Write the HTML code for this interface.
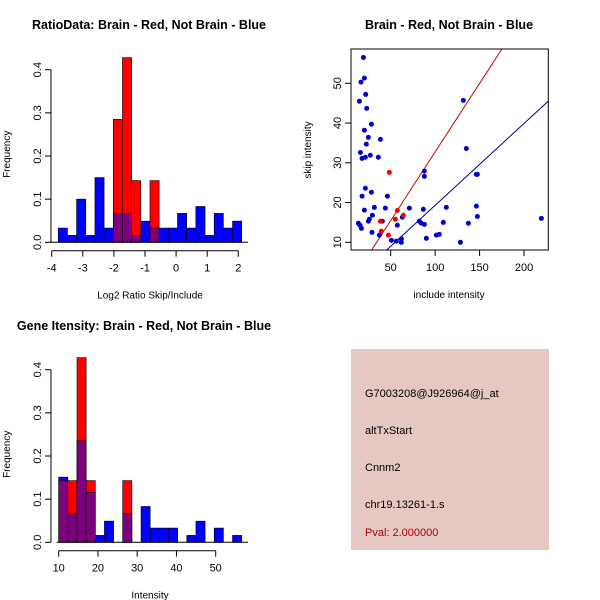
<!DOCTYPE html>
<html><head><meta charset="utf-8"><style>
body{margin:0;background:#fff;}
svg{display:block;font-family:"Liberation Sans",sans-serif;}
</style></head><body>
<svg id="c" width="600" height="600" xmlns="http://www.w3.org/2000/svg">
<rect width="600" height="600" fill="#fff"/>
<text x="149" y="29" text-anchor="middle" font-size="12.5" font-weight="bold">RatioData: Brain - Red, Not Brain - Blue</text>
<text x="449" y="29" text-anchor="middle" font-size="12.5" font-weight="bold">Brain - Red, Not Brain - Blue</text>
<text x="144" y="330" text-anchor="middle" font-size="12.5" font-weight="bold">Gene Itensity: Brain - Red, Not Brain - Blue</text>
<rect x="351" y="349" width="198" height="201" fill="#E6C8C2"/>
<text x="365" y="397" font-size="11">G7003208@J926964@j_at</text>
<text x="365" y="434" font-size="11">altTxStart</text>
<text x="365" y="471" font-size="11">Cnnm2</text>
<text x="365" y="508" font-size="11">chr19.13261-1.s</text>
<text x="365" y="536" font-size="11" fill="#B00000">Pval: 2.000000</text>
</svg>
<script>
// Ratio histogram data
const ratioStart = -3.79, ratioWidth = 0.295;
const ratioBlue = [0.033,0.016,0.1,0.016,0.15,0.033,0.067,0.067,0.016,0.049,0.033,0.033,0.033,0.067,0.033,0.083,0.016,0.067,0.033,0.049];
const ratioRed  = [0,0,0,0,0,0,0.285,0.428,0.143,0,0.143,0,0,0,0,0,0,0,0,0];
const ratioXTicks = [-4,-3,-2,-1,0,1,2];
const freqTicks = [0.0,0.1,0.2,0.3,0.4];
// Intensity histogram data
const intStart = 10, intWidth = 2.331;
const intBlue = [0.151,0.067,0.235,0.116,0.016,0.049,0,0.067,0,0.083,0.033,0.033,0.033,0,0.016,0.049,0,0.033,0,0.016];
const intRed  = [0.143,0.143,0.428,0.143,0,0,0,0.143,0,0,0,0,0,0,0,0,0,0,0,0];
const intXTicks = [10,20,30,40,50];
// Scatter data
const blueX = [19.3,20.4,16.6,14.8,21.9,23,28.3,20.4,24.9,38.4,22.6,15.9,27.1,17.8,21.5,36.1,21.5,17.8,46.3,28.3,31.6,20.4,44,29.4,26,24.9,13.6,15.5,17,29,37.2,40.6,50.8,56.4,57.5,62,63.1,71,82.2,84.5,87.9,86.7,87.9,87.9,90.1,101.4,104.7,109.2,112.6,128.4,131.7,135.1,137.4,146.4,147.5,146.4,147.5,219.5,62];
const blueY = [56.5,51.3,50.3,45.5,47.2,43.7,39.7,38.2,36.4,35.9,34.7,32.6,31.9,31.1,31.4,31.4,23.6,21.6,21.6,22.6,18.8,18.1,18.6,16.8,15.8,15.3,14.8,14.3,13.5,12.5,11.8,15.3,10.5,10.3,14.3,10,16.3,18.6,15.3,14.8,14.5,18.3,27.9,26.6,11,11.8,12,15,18.8,10,45.7,33.6,14.8,27.1,27.1,19.1,16.5,16,10.9];
const redX = [48.5,57.5,55.2,64.2,38.4,39.5,47.4];
const redY = [27.6,18,15.8,16.8,15.3,12.8,11.8];
const redFit = [-1.77,0.345];
const blueFit = [-1.3,0.206];
const scatXTicks = [50,100,150,200];
const scatYTicks = [10,20,30,40,50];

const svg = document.getElementById('c');
const NS = 'http://www.w3.org/2000/svg';
function mk(tag, at, parent){const e=document.createElementNS(NS,tag);for(const k in at)e.setAttribute(k,at[k]);(parent||svg).appendChild(e);return e;}

function hist(cfg){
  const g = mk('g',{});
  
  
  const X = v => cfg.x0 + (v - cfg.xv0) * cfg.xs;
  const Y = v => cfg.y0 - v * cfg.ys;
  const n = cfg.blue.length;
  for (let i=0;i<n;i++){
    const a = cfg.start + i*cfg.w, b = a + cfg.w;
    const b1 = cfg.blue[i], r1 = cfg.red[i];
    const hi = Math.max(b1,r1), lo = Math.min(b1,r1);
    if (hi>0){
      const r = mk('rect',{x:X(a),y:Y(hi),width:X(b)-X(a),height:Y(0)-Y(hi),fill:b1>=r1?'#0000FF':'#FF0000',stroke:'#000','stroke-width':0.6},g);
      
      
    }
    if (lo>0){
      const r = mk('rect',{x:X(a),y:Y(lo),width:X(b)-X(a),height:Y(0)-Y(lo),fill:'#7F007F',stroke:'#000','stroke-width':0.6},g);
      
      
    }
  }
  const ya = mk('g',{});
  
  
  mk('line',{x1:cfg.yax,x2:cfg.yax,y1:Y(0),y2:Y(0.4),stroke:'#000'},ya);
  freqTicks.forEach(t=>{
    mk('line',{x1:cfg.yax-6,x2:cfg.yax,y1:Y(t),y2:Y(t),stroke:'#000'},ya);
    const tx = mk('text',{x:0,y:0,'font-size':11,'text-anchor':'middle',transform:`translate(${cfg.yax-10},${Y(t)}) rotate(-90)`},ya);
    tx.textContent = t.toFixed(1);
  });
  const yl = mk('text',{'font-size':10,'text-anchor':'middle',transform:`translate(10,${cfg.y0-88}) rotate(-90)`},ya);
  yl.textContent='Frequency';
  const xa = mk('g',{});
  
  
  const ticks = cfg.ticks;
  mk('line',{x1:X(ticks[0]),x2:X(ticks[ticks.length-1]),y1:cfg.xay,y2:cfg.xay,stroke:'#000'},xa);
  ticks.forEach(t=>{
    mk('line',{x1:X(t),x2:X(t),y1:cfg.xay,y2:cfg.xay+6,stroke:'#000'},xa);
    const tx = mk('text',{x:X(t),y:cfg.xay+21,'font-size':11,'text-anchor':'middle'},xa);
    tx.textContent = t;
  });
  const xl = mk('text',{x:cfg.xlx,y:cfg.xay+48,'font-size':10,'text-anchor':'middle'},xa);
  xl.textContent = cfg.xlabel;
  mk('line',{x1:cfg.x0-2,x2:cfg.bx,y1:Y(0),y2:Y(0),stroke:'#000'},g);
}
hist({name:'ratio-histogram',blue:ratioBlue,red:ratioRed,start:ratioStart,w:ratioWidth,ticks:ratioXTicks,
  x0:51.7,xv0:-4,xs:31.1,y0:242.3,ys:431.5,yax:51,xay:250.7,xlabel:'Log2 Ratio Skip/Include',xlx:150,bx:248});
hist({name:'intensity-histogram',blue:intBlue,red:intRed,start:intStart,w:intWidth,ticks:intXTicks,
  x0:58.7,xv0:10,xs:3.925,y0:542.3,ys:431.5,yax:51,xay:550.7,xlabel:'Intensity',xlx:150,bx:248});

(function(){
  const g = mk('g',{});
  
  
  const X = v => 390.7 + (v-50)*0.8889;
  const Y = v => 242.3 - (v-10)*3.975;
  const L=351,R=548.3,T=49,B=250;
  const cp = mk('clipPath',{id:'cp'});
  mk('rect',{x:L,y:T,width:R-L,height:B-T},cp);
  const lines = mk('g',{'clip-path':'url(#cp)'},g);
  [[redFit,'#CC0000','red-fit-line'],[blueFit,'#00008B','blue-fit-line']].forEach(([f,c,n])=>{
    const x1=0,x2=300;
    const l = mk('line',{x1:X(x1),y1:Y(f[0]+f[1]*x1),x2:X(x2),y2:Y(f[0]+f[1]*x2),stroke:c,'stroke-width':1},lines);
    
    
  });
  blueX.forEach((x,i)=>{
    const c = mk('circle',{cx:X(x),cy:Y(blueY[i]),r:2.5,fill:'#0000CC'},g);
    
    
  });
  redX.forEach((x,i)=>{
    const c = mk('circle',{cx:X(x),cy:Y(redY[i]),r:2.5,fill:'#EE0000'},g);
    
    
  });
  mk('rect',{x:L,y:T,width:R-L,height:B-T,fill:'none',stroke:'#000'},g);
  scatXTicks.forEach(t=>{
    mk('line',{x1:X(t),x2:X(t),y1:B,y2:B+6,stroke:'#000'},g);
    const tx=mk('text',{x:X(t),y:B+21,'font-size':11,'text-anchor':'middle'},g);
    tx.textContent=t;
  });
  scatYTicks.forEach(t=>{
    mk('line',{x1:L-6,x2:L,y1:Y(t),y2:Y(t),stroke:'#000'},g);
    const tx=mk('text',{'font-size':11,'text-anchor':'middle',transform:`translate(${L-10},${Y(t)}) rotate(-90)`},g);
    tx.textContent=t;
  });
  const xl=mk('text',{x:449,y:298,'font-size':10,'text-anchor':'middle'},g);
  xl.textContent='include intensity';
  
  
  const yl=mk('text',{'font-size':10,'text-anchor':'middle',transform:'translate(311,150) rotate(-90)'},g);
  yl.textContent='skip intensity';
  
  
})();
</script>
</body></html>
